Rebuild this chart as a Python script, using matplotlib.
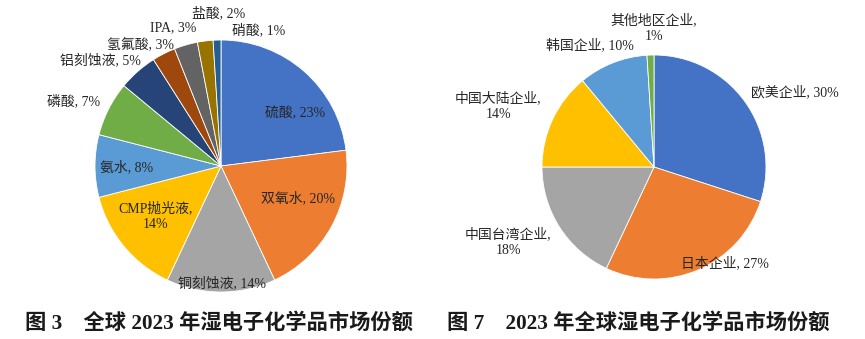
import matplotlib
matplotlib.use("Agg")
import matplotlib.pyplot as plt

plt.rcParams['font.family'] = ['Liberation Serif', 'Noto Sans CJK SC', 'DejaVu Sans']

# 图3 全球湿电子化学品市场份额（按产品）
products = ['硫酸', '双氧水', '铜刻蚀液', 'CMP抛光液', '氨水', '磷酸',
            '铝刻蚀液', '氢氟酸', 'IPA', '盐酸', '硝酸']
product_share = [23, 20, 14, 14, 8, 7, 5, 3, 3, 2, 1]

# 图7 全球湿电子化学品市场份额（按地区企业）
regions = ['欧美企业', '日本企业', '中国台湾企业', '中国大陆企业', '韩国企业', '其他地区企业']
region_share = [30, 27, 18, 14, 10, 1]

product_colors = ['#4472C4', '#ED7D31', '#A5A5A5', '#FFC000', '#5B9BD5', '#70AD47',
                  '#264478', '#9E480E', '#636363', '#997300', '#255E91']
region_colors = ['#4472C4', '#ED7D31', '#A5A5A5', '#FFC000', '#5B9BD5', '#70AD47']

# label positions in pie units (radius = 1)
product_label_pos = [(0.59, 0.42), (0.61, -0.26), (0.01, -0.94), (-0.52, -0.40),
                     (-0.75, -0.01), (-1.17, 0.51), (-0.96, 0.83), (-0.64, 0.96),
                     (-0.38, 1.10), (-0.02, 1.21), (0.30, 1.08)]
product_label_wrap = [False, False, False, True, False, False, False, False, False, False, False]
region_label_pos = [(1.26, 0.67), (0.63, -0.86), (-1.30, -0.67), (-1.39, 0.54),
                    (-0.57, 1.09), (0.0, 1.24)]
region_label_wrap = [False, False, True, True, False, True]

W, H = 865, 339
fig = plt.figure(figsize=(W / 100, H / 100), dpi=100)


def draw_pie(cx, cy, r, names, values, colors, label_pos, wrap):
    ax = fig.add_axes([(cx - r) / W, (H - cy - r) / H, 2 * r / W, 2 * r / H])
    ax.pie(values, colors=colors, startangle=90, counterclock=False, radius=1,
           wedgeprops=dict(edgecolor='white', linewidth=0.6))
    ax.set_xlim(-1, 1)
    ax.set_ylim(-1, 1)
    ax.axis('off')
    for name, v, (x, y), w in zip(names, values, label_pos, wrap):
        sep = ',\n' if w else ', '
        ax.text(x, y, f'{name}{sep}{v}%', ha='center', va='center',
                fontsize=10, color='#262626', linespacing=1.3, clip_on=False)
    return ax


draw_pie(221, 166, 126, products, product_share, product_colors,
         product_label_pos, product_label_wrap)
draw_pie(654, 167, 112, regions, region_share, region_colors,
         region_label_pos, region_label_wrap)

fig.text(25 / W, 1 - 323 / H, '图 3　全球 2023 年湿电子化学品市场份额',
         ha='left', va='center', fontsize=15.3, fontweight='bold', color='#1a1a1a')
fig.text(447 / W, 1 - 323 / H, '图 7　2023 年全球湿电子化学品市场份额',
         ha='left', va='center', fontsize=15.3, fontweight='bold', color='#1a1a1a')

fig.savefig('out.png', dpi=100)
